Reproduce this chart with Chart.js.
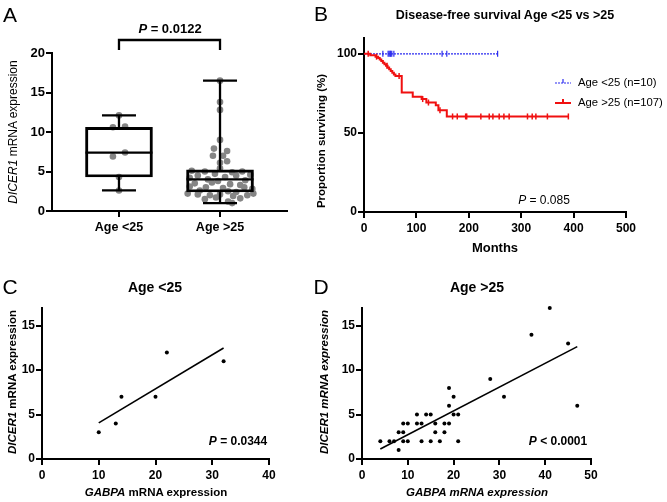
<!DOCTYPE html>
<html>
<head>
<meta charset="utf-8">
<script src="https://cdn.jsdelivr.net/npm/chart.js"></script>
<style>
body { margin: 0; background: #fff; width: 667px; height: 502px; position: relative; overflow: hidden;
       font-family: "Liberation Sans", Arial, sans-serif; color: #000; }
canvas { position: absolute; }
.t { position: absolute; white-space: nowrap; transform: translate(-50%, -50%); line-height: 1; }
.r { transform: translate(-50%, -50%) rotate(-90deg); }
.b { font-weight: bold; }
</style>
</head>
<body>
<canvas id="cA" width="300" height="250" style="left:0;top:0"></canvas>
<canvas id="cB" width="367" height="250" style="left:300px;top:0"></canvas>
<canvas id="cC" width="300" height="252" style="left:0;top:250px"></canvas>
<canvas id="cD" width="367" height="252" style="left:300px;top:250px"></canvas>

<div class="t" style="left:10px;top:14px;font-size:21px">A</div>
<div class="t" style="left:321px;top:13px;font-size:21px">B</div>
<div class="t" style="left:10px;top:286px;font-size:21px">C</div>
<div class="t" style="left:321px;top:286px;font-size:21px">D</div>

<div class="t b" style="left:170px;top:28px;font-size:13px"><i>P</i> = 0.0122</div>
<div class="t r" style="left:13px;top:132px;font-size:12px"><i>DICER1</i> mRNA expression</div>

<div class="t b" style="left:505px;top:15px;font-size:12.5px">Disease-free survival Age &lt;25 vs &gt;25</div>
<div class="t r b" style="left:322px;top:141px;font-size:11.5px">Proportion surviving (%)</div>
<div class="t b" style="left:495px;top:247px;font-size:13px">Months</div>
<div class="t" style="left:544px;top:200px;font-size:12px"><i>P</i> = 0.085</div>

<div class="t b" style="left:155px;top:287px;font-size:14px">Age &lt;25</div>
<div class="t r b" style="left:13px;top:382px;font-size:11.5px"><i>DICER1</i> mRNA expression</div>
<div class="t b" style="left:156px;top:493px;font-size:11.5px"><i>GABPA</i> mRNA expression</div>
<div class="t b" style="left:238px;top:441px;font-size:12px"><i>P</i> = 0.0344</div>

<div class="t b" style="left:477px;top:287px;font-size:14px">Age &gt;25</div>
<div class="t r b" style="left:325px;top:382px;font-size:11.5px"><i>DICER1 mRNA expression</i></div>
<div class="t b" style="left:477px;top:493px;font-size:11.5px"><i>GABPA mRNA expression</i></div>
<div class="t b" style="left:558px;top:441px;font-size:12px"><i>P</i> &lt; 0.0001</div>

<script>
// ---- panel A: box plot ----
var groupsA = ['Age <25', 'Age >25'];
var minA = [2.6, 1.0];
var q1A = [4.3, 2.4];
var medA = [7.4, 4.0];
var q3A = [10.6, 5.2];
var maxA = [12.1, 16.5];
var youngVals = [12.1, 10.6, 10.7, 7.4, 6.9, 4.3, 2.6];
var youngJit = [0, -0.06, 0.06, 0.06, -0.06, 0, 0];
var oldVals = [16.5, 13.8, 12.8, 9.0, 7.9, 7.6, 7.0, 7.0, 6.3, 6.1, 5.4,
  5.1, 5.0, 4.9, 5.0, 4.7, 4.6, 4.5, 4.3, 4.5, 4.2, 4.0, 3.9, 3.8,
  3.5, 3.4, 3.3, 3.6, 3.1, 3.0, 2.9, 3.0, 2.8, 2.6, 2.5, 2.4,
  2.2, 2.1, 2.0, 2.1, 1.9, 2.0, 2.2, 1.7, 1.6, 1.5, 1.2, 1.0];
var oldJit = [0, 0, 0, 0, -0.06, 0.07, -0.07, 0.03, 0.07, 0, 0,
  -0.28, -0.15, 0.12, 0.22, -0.05, 0.3, -0.22, 0.05, 0.16, -0.3, -0.12, 0.25, -0.02,
  -0.25, 0.1, 0.2, -0.08, -0.3, -0.14, 0.03, 0.24, 0.32, -0.2, 0.08, 0.16,
  -0.32, -0.22, -0.1, 0, 0.13, 0.27, 0.33, -0.04, 0.2, -0.15, 0.08, 0.12];
var yTicksA = [0, 5, 10, 15, 20];

// ---- panel B: Kaplan-Meier ----
var kmLabels = ['Age <25 (n=10)', 'Age >25 (n=107)'];
var blueT = [0, 255];
var blueS = [100, 100];
var blueCens = [36, 46, 48, 50, 51, 53, 57, 149, 158, 255];
var redT = [0, 12, 22, 27, 30, 33, 36, 39, 42, 45, 48, 51, 54, 57, 60, 72, 93, 110, 119, 137, 142, 158, 390];
var redS = [100, 99.1, 98.2, 97.3, 96.4, 95.4, 94.4, 93.4, 92.4, 91.4, 90.3, 89.2, 88.1, 87.0, 85.9, 75.5, 72.9, 71.4, 69.2, 67.5, 64.4, 60.4, 60.4];
var redCens = [8, 24, 44, 67, 112, 123, 145, 169, 178, 194, 196, 223, 239, 246, 258, 267, 277, 312, 321, 328, 350, 390];
var xTicksB = [0, 100, 200, 300, 400, 500];
var yTicksB = [0, 50, 100];

// ---- panel C: Age <25 correlation ----
var cX = [10, 13, 14, 20, 22, 32];
var cY = [3, 4, 7, 7, 12, 11];
var fitCX = [10, 32];
var fitCY = [4.07, 12.5];
var xTicksC = [0, 10, 20, 30, 40];

// ---- panel D: Age >25 correlation ----
var dX = [4, 6, 7, 8, 8, 9, 9, 9, 10, 10, 12, 12, 13, 13, 14, 15, 15, 16, 16, 17, 18, 18, 19, 19, 19, 20, 20, 21, 21, 28, 31, 37, 41, 45, 47];
var dY = [2, 2, 2, 3, 1, 3, 4, 2, 4, 2, 5, 4, 4, 2, 5, 5, 2, 4, 3, 2, 4, 3, 8, 6, 4, 7, 5, 5, 2, 9, 7, 14, 17, 13, 6];
var fitDX = [4, 47];
var fitDY = [1.12, 12.65];
var xTicksD = [0, 10, 20, 30, 40, 50];
var yTicksCD = [0, 5, 10, 15];

var FONT = '"Liberation Sans", Arial, sans-serif';
var BLUE = '#2b2bf0';
var RED = '#f01010';

function pts(xs, ys) {
  return xs.map(function(x, i) { return {x: x, y: ys[i]}; });
}

function survAt(times, surv, t) {
  var s = surv[0];
  for (var i = 0; i < times.length; i++) { if (times[i] <= t) s = surv[i]; }
  return s;
}

function makeAxis(min, max, tickVals, fontSize, fitSize, isY, labels) {
  return {
    type: 'linear', min: min, max: max, offset: false,
    border: {display: true, color: '#000', width: 2},
    grid: {display: true, drawOnChartArea: false, drawTicks: true, tickLength: 6,
           color: '#000', lineWidth: 2, offset: false},
    ticks: {color: '#000', padding: isY ? 1 : 3, maxRotation: 0, autoSkip: false,
            font: {family: FONT, size: fontSize, weight: 'bold'},
            callback: function(v) { return labels ? labels[v - 1] : v; }},
    afterBuildTicks: function(s) { s.ticks = tickVals.map(function(v) { return {value: v}; }); },
    afterFit: function(s) { if (isY) { s.width = fitSize; } else { s.height = fitSize; } }
  };
}

function baseOptions(pad) {
  return {
    responsive: false, animation: false,
    layout: {padding: pad},
    plugins: {legend: {display: false}, tooltip: {enabled: false}}
  };
}

function seg(ctx, x1, y1, x2, y2) {
  ctx.beginPath(); ctx.moveTo(x1, y1); ctx.lineTo(x2, y2); ctx.stroke();
}

// whiskers, medians and the significance bracket
var boxParts = {
  id: 'boxParts',
  afterDatasetsDraw: function(chart) {
    var ctx = chart.ctx, xs = chart.scales.x, ys = chart.scales.y;
    var bars = chart.getDatasetMeta(0).data;
    ctx.save();
    ctx.strokeStyle = '#000';
    ctx.lineWidth = 2.3;
    for (var i = 0; i < groupsA.length; i++) {
      var cx = xs.getPixelForValue(i + 1);
      var half = bars[i].width / 2;
      var cap = 17;
      seg(ctx, cx, ys.getPixelForValue(q3A[i]), cx, ys.getPixelForValue(maxA[i]));
      seg(ctx, cx, ys.getPixelForValue(q1A[i]), cx, ys.getPixelForValue(minA[i]));
      seg(ctx, cx - cap, ys.getPixelForValue(maxA[i]), cx + cap, ys.getPixelForValue(maxA[i]));
      seg(ctx, cx - cap, ys.getPixelForValue(minA[i]), cx + cap, ys.getPixelForValue(minA[i]));
      seg(ctx, cx - half, ys.getPixelForValue(medA[i]), cx + half, ys.getPixelForValue(medA[i]));
    }
    var top = chart.chartArea.top;
    var x1 = xs.getPixelForValue(1), x2 = xs.getPixelForValue(2);
    ctx.beginPath();
    ctx.moveTo(x1, top - 3); ctx.lineTo(x1, top - 13); ctx.lineTo(x2, top - 13); ctx.lineTo(x2, top - 3);
    ctx.stroke();
    ctx.restore();
  }
};

new Chart(document.getElementById('cA'), {
  type: 'bar',
  data: {
    datasets: [{
      type: 'bar', order: 0,
      data: q1A.map(function(q, i) { return {x: i + 1, y: [q, q3A[i]]}; }),
      backgroundColor: 'rgba(0,0,0,0)', borderColor: '#000', borderWidth: 2.3,
      borderSkipped: false, barThickness: 67
    }, {
      type: 'scatter', order: 1,
      data: youngVals.map(function(v, i) { return {x: 1 + youngJit[i], y: v}; })
        .concat(oldVals.map(function(v, i) { return {x: 2 + oldJit[i], y: v}; })),
      backgroundColor: '#858585', borderWidth: 0, pointRadius: 3.3
    }]
  },
  options: Object.assign(baseOptions({left: 0, top: 53, right: 13, bottom: 0}), {
    scales: {
      x: makeAxis(0.337, 2.663, [1, 2], 12.5, 39, false, groupsA),
      y: makeAxis(0, 20, yTicksA, 13, 52, true)
    }
  }),
  plugins: [boxParts]
});

// legend drawn inside the survival plot
var kmLegend = {
  id: 'kmLegend',
  afterDraw: function(chart) {
    var ctx = chart.ctx;
    var cols = [BLUE, RED], widths = [1.2, 2], ys = [83, 103];
    ctx.save();
    for (var i = 0; i < kmLabels.length; i++) {
      ctx.strokeStyle = cols[i];
      ctx.lineWidth = widths[i];
      ctx.setLineDash(i === 0 ? [2, 1] : []);
      seg(ctx, 255, ys[i], 271, ys[i]);
      ctx.setLineDash([]);
      seg(ctx, 263, ys[i], 263, ys[i] - 4);
      ctx.fillStyle = '#000';
      ctx.font = '11.3px ' + FONT;
      ctx.textBaseline = 'middle';
      ctx.fillText(kmLabels[i], 278, ys[i]);
    }
    ctx.restore();
  }
};

new Chart(document.getElementById('cB'), {
  type: 'scatter',
  data: {
    datasets: [{
      data: pts(redT, redS), showLine: true, stepped: true,
      borderColor: RED, borderWidth: 2, pointRadius: 0
    }, {
      data: redCens.map(function(t) { return {x: t, y: survAt(redT, redS, t)}; }),
      pointStyle: 'line', rotation: 90, pointRadius: 3, borderColor: RED, borderWidth: 1.5
    }, {
      data: pts(blueT, blueS), showLine: true, stepped: true,
      borderColor: BLUE, borderWidth: 1.2, borderDash: [2, 1], pointRadius: 0
    }, {
      data: blueCens.map(function(t) { return {x: t, y: survAt(blueT, blueS, t)}; }),
      pointStyle: 'line', rotation: 90, pointRadius: 3, borderColor: BLUE, borderWidth: 1.2
    }]
  },
  options: Object.assign(baseOptions({left: 0, top: 38, right: 41, bottom: 0}), {
    scales: {
      x: makeAxis(0, 500, xTicksB, 12, 38, false),
      y: makeAxis(0, 110, yTicksB, 12, 64, true)
    }
  }),
  plugins: [kmLegend]
});

function corrChart(id, xs, ys, fx, fy, xMax, xTicks, yWidth, padRight) {
  new Chart(document.getElementById(id), {
    type: 'scatter',
    data: {
      datasets: [{
        data: pts(xs, ys), backgroundColor: '#000', borderWidth: 0, pointRadius: 2, clip: false
      }, {
        data: pts(fx, fy), showLine: true, borderColor: '#000', borderWidth: 1.6, pointRadius: 0
      }]
    },
    options: Object.assign(baseOptions({left: 0, top: 58, right: padRight, bottom: 0}), {
      scales: {
        x: makeAxis(0, xMax, xTicks, 12, 43, false),
        y: makeAxis(0, 17, yTicksCD, 12, yWidth, true)
      }
    })
  });
}

corrChart('cC', cX, cY, fitCX, fitCY, 40, xTicksC, 42, 31);
corrChart('cD', dX, dY, fitDX, fitDY, 50, xTicksD, 62, 76);
</script>
</body>
</html>
